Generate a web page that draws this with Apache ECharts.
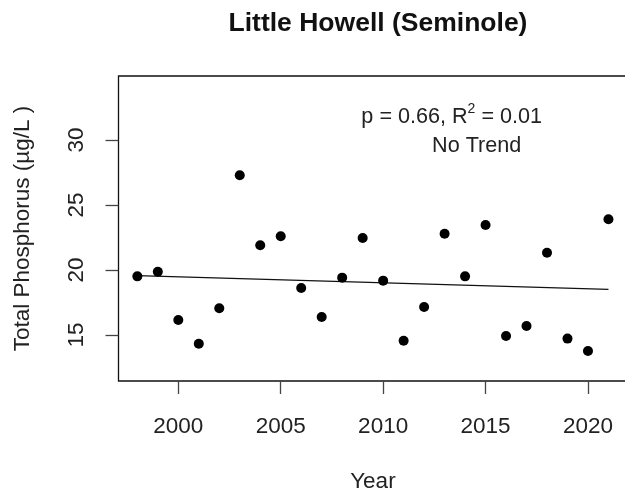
<!DOCTYPE html>
<html>
<head>
<meta charset="utf-8">
<script src="https://cdn.jsdelivr.net/npm/echarts@6/dist/echarts.min.js"></script>
<style>html,body{margin:0;padding:0;background:#fff;}#c{width:625px;height:493px;}</style>
</head>
<body>
<div id="c"></div>
<script>
var years = [1998,1999,2000,2001,2002,2003,2004,2005,2006,2007,2008,2009,2010,2011,2012,2013,2014,2015,2016,2017,2018,2019,2020,2021];
var phosphorus = [19.51,19.87,16.15,14.33,17.05,27.28,21.9,22.59,18.62,16.38,19.41,22.46,19.18,14.56,17.15,22.79,19.51,23.46,14.92,15.69,21.33,14.72,13.77,23.9];
var trendYears = [1998, 2021];
var trendValues = [19.56, 18.51];
var xTicks = [2000,2005,2010,2015,2020];
var yTicks = [15,20,25,30];
var titleText = 'Little Howell (Seminole)';
var statText = ['p = 0.66, R', '2', ' = 0.01'];
var trendText = 'No Trend';

var FONT = '"Liberation Sans", Arial, sans-serif';
var TXT = '#222';
var chart = echarts.init(document.getElementById('c'), null, {renderer:'canvas'});
chart.setOption({
  animation: false,
  backgroundColor: '#fff',
  title: {
    text: titleText, left: 373, top: 5, textAlign: 'center',
    textStyle: {fontFamily: FONT, fontWeight: 'bold', fontSize: 26.5, color: '#111'}
  },
  grid: {left: 118.5, right: -2.3, top: 76, bottom: 112, show: true, borderColor: '#111', borderWidth: 1.3,
    backgroundColor: 'transparent', containLabel: false, outerBoundsMode: 'none'},
  xAxis: {
    type: 'value', min: 1997.08, max: 2021.92,
    name: 'Year', nameLocation: 'middle', nameGap: 89,
    nameTextStyle: {fontFamily: FONT, fontSize: 22.5, color: TXT},
    axisLine: {show: false},
    axisTick: {show: true, length: 13, customValues: xTicks, lineStyle: {color: '#444', width: 1.3}},
    axisLabel: {customValues: xTicks, margin: 34, fontFamily: FONT, fontSize: 22.5, color: TXT,
      formatter: function(v){ return String(v); }},
    splitLine: {show: false}
  },
  yAxis: {
    type: 'value', min: 11.46, max: 34.92,
    name: 'Total Phosphorus (µg/L )', nameLocation: 'middle', nameGap: 84, nameRotate: 90,
    nameTextStyle: {fontFamily: FONT, fontSize: 22.5, color: TXT},
    axisLine: {show: false},
    axisTick: {show: true, length: 13, customValues: yTicks, lineStyle: {color: '#444', width: 1.3}},
    axisLabel: {customValues: yTicks, rotate: 90, margin: 30, fontFamily: FONT, fontSize: 22.5, color: TXT,
      formatter: function(v){ return String(v); }},
    splitLine: {show: false}
  },
  graphic: [
    {type: 'text', x: 451.7, y: 115, style: {
      text: '{a|' + statText[0] + '}{s|' + statText[1] + '}{a|' + statText[2] + '}',
      align: 'center', verticalAlign: 'middle',
      rich: {
        a: {fontFamily: FONT, fontSize: 21.6, fill: TXT, color: TXT, verticalAlign: 'bottom', lineHeight: 26},
        s: {fontFamily: FONT, fontSize: 14, fill: TXT, color: TXT, verticalAlign: 'top', lineHeight: 26}
      }
    }},
    {type: 'text', x: 476.7, y: 146, style: {
      text: trendText, align: 'center', verticalAlign: 'middle',
      font: '21.6px ' + FONT, fill: TXT
    }}
  ],
  series: [
    {type: 'line', data: trendYears.map(function(y,i){return [y, trendValues[i]];}),
     symbol: 'none', lineStyle: {color: '#111', width: 1.2}, z: 2},
    {type: 'scatter', data: years.map(function(y,i){return [y, phosphorus[i]];}),
     symbol: 'circle', symbolSize: 10, itemStyle: {color: '#000', opacity: 1}, z: 3}
  ]
});
</script>
</body>
</html>
